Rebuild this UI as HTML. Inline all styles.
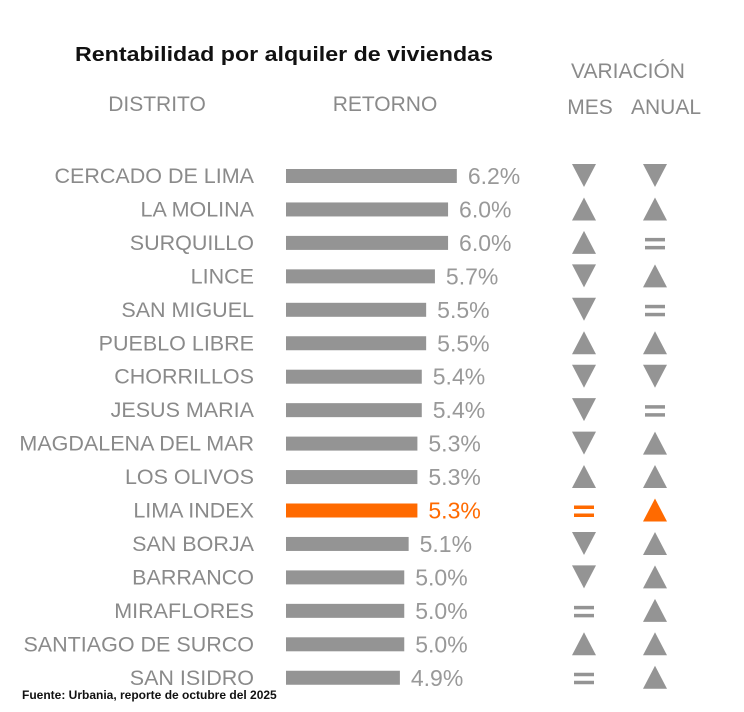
<!DOCTYPE html>
<html><head><meta charset="utf-8"><style>
html,body{margin:0;padding:0;background:#fff;}
svg{display:block;font-family:"Liberation Sans",sans-serif;}
</style></head><body>
<svg id="chart" width="744" height="712" viewBox="0 0 744 712">
<rect width="744" height="712" fill="#fff"/>
<text x="75" y="61" font-size="20" font-weight="bold" fill="#111" textLength="418" lengthAdjust="spacingAndGlyphs">Rentabilidad por alquiler de viviendas</text>
<text x="157" y="111" text-anchor="middle" font-size="21" fill="#8a8a8a">DISTRITO</text>
<text x="385" y="111" text-anchor="middle" font-size="21" fill="#8a8a8a">RETORNO</text>
<text x="628" y="78" text-anchor="middle" font-size="21" fill="#8a8a8a">VARIACIÓN</text>
<text x="590" y="114" text-anchor="middle" font-size="21" fill="#8a8a8a">MES</text>
<text x="666" y="114" text-anchor="middle" font-size="21" fill="#8a8a8a">ANUAL</text>
<text x="22" y="699" font-size="12" font-weight="bold" fill="#111">Fuente: Urbania, reporte de octubre del 2025</text>
<g id="rows"></g>
</svg>
<script>
const districts = ["CERCADO DE LIMA","LA MOLINA","SURQUILLO","LINCE","SAN MIGUEL","PUEBLO LIBRE","CHORRILLOS","JESUS MARIA","MAGDALENA DEL MAR","LOS OLIVOS","LIMA INDEX","SAN BORJA","BARRANCO","MIRAFLORES","SANTIAGO DE SURCO","SAN ISIDRO"];
const returns = [6.2,6.0,6.0,5.7,5.5,5.5,5.4,5.4,5.3,5.3,5.3,5.1,5.0,5.0,5.0,4.9];
const monthChange = ["d","u","u","d","d","u","d","d","d","u","e","d","d","e","u","e"];
const annualChange = ["d","u","e","u","e","u","d","e","u","u","u","u","u","u","u","u"];
const highlight = "LIMA INDEX";

const NS = "http://www.w3.org/2000/svg";
const g = document.getElementById("rows");
const x0 = 286, pxPerUnit = 43.8, base = 2.3;
function xw(v){ return (v - base) * pxPerUnit; }
function yc(i){ return 176 + i * 33.45; }
function mk(tag, attrs){ const e = document.createElementNS(NS, tag); for (const k in attrs) e.setAttribute(k, attrs[k]); g.appendChild(e); return e; }
function icon(type, cx, cy, col, nm){
  let e;
  if (type === "u") e = mk("polygon", {points:`${cx-12},${cy+11} ${cx+12},${cy+11} ${cx},${cy-12}`, fill:col});
  else if (type === "d") e = mk("polygon", {points:`${cx-12},${cy-12} ${cx+12},${cy-12} ${cx},${cy+11}`, fill:col});
  else {
    e = document.createElementNS(NS, "g"); g.appendChild(e);
    [cy-5, cy+3].forEach(yy => { const r = document.createElementNS(NS, "rect"); r.setAttribute("x", cx-10); r.setAttribute("y", yy); r.setAttribute("width", 20); r.setAttribute("height", 3.5); r.setAttribute("fill", col); e.appendChild(r); });
  }
  
  
}
districts.forEach((d, i) => {
  const y = yc(i);
  const hl = d === highlight;
  const col = hl ? "#ff6a00" : "#949494";
  const lab = mk("text", {x:254, y:y+7, "text-anchor":"end", "font-size":21.5, fill:"#8a8a8a"});
  lab.textContent = d;
  
  
  const w = xw(returns[i]);
  const bar = mk("rect", {x:x0, y:y-7, width:w, height:14, fill:col});
  
  
  const val = mk("text", {x:x0+w+11, y:y+8, "font-size":23, fill: hl ? "#ff6a00" : "#999"});
  val.textContent = returns[i].toFixed(1) + "%";
  
  
  icon(monthChange[i], 584, y, col, "month-change-icon");
  icon(annualChange[i], 655, y, col, "annual-change-icon");
});
</script>
</body></html>
